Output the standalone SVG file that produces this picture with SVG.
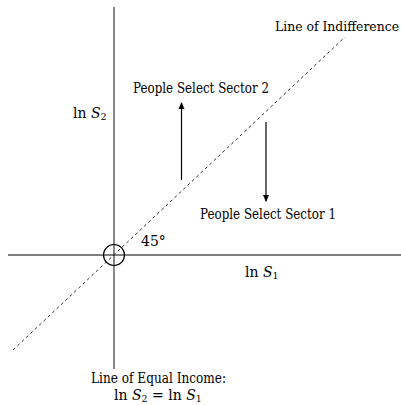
<svg xmlns="http://www.w3.org/2000/svg" width="401" height="405" viewBox="0 0 401 405">
<style>
text{font-family:"DejaVu Serif","Liberation Serif",serif;font-size:14px;fill:#000}
.c{font-family:"DejaVu Serif Condensed","DejaVu Serif",serif;font-stretch:condensed}
.it{font-style:italic}
.sub{font-size:9.5px}
.ax{stroke:#000;stroke-width:1.2;fill:none}
</style>
<defs>
<marker id="ah" markerWidth="8" markerHeight="8" refX="6" refY="4" orient="auto" markerUnits="userSpaceOnUse">
<path d="M0,1 L7,4 L0,7 Z" fill="#000"/>
</marker>
</defs>
<rect width="401" height="405" fill="#fff"/>
<g id="connectors">
<line x1="114" y1="7" x2="114" y2="369" stroke="#888" stroke-width="2"/>
<line x1="8" y1="255" x2="401" y2="255" class="ax"/>
<line x1="13" y1="350" x2="345" y2="37" stroke="#333" stroke-width="1" stroke-dasharray="3,3"/>
<line x1="181.5" y1="180" x2="181.5" y2="103" class="ax" marker-end="url(#ah)"/>
<line x1="266" y1="122" x2="266" y2="201" class="ax" marker-end="url(#ah)"/>
</g>
<g id="origin"><circle cx="114" cy="255" r="10.5" class="ax"/></g>
<g id="indifference"><text class="c" x="399" y="31" text-anchor="end" style="font-size:13.8px">Line of Indifference</text></g>
<g id="sector2"><text x="133" y="93" textLength="136" lengthAdjust="spacingAndGlyphs">People Select Sector 2</text></g>
<g id="sector1"><text x="200" y="219" textLength="136" lengthAdjust="spacingAndGlyphs">People Select Sector 1</text></g>
<g id="lnS2"><text x="73" y="118">ln <tspan class="it">S</tspan><tspan class="sub" dy="2">2</tspan></text></g>
<g id="lnS1"><text x="245" y="277">ln <tspan class="it">S</tspan><tspan class="sub" dy="2">1</tspan></text></g>
<g id="angle"><text x="141" y="246">45°</text></g>
<g id="equal">
<text x="91" y="383" textLength="135" lengthAdjust="spacingAndGlyphs">Line of Equal Income:</text>
<text x="114" y="400">ln <tspan class="it">S</tspan><tspan class="sub" dy="2">2</tspan><tspan dy="-2"> = ln </tspan><tspan class="it">S</tspan><tspan class="sub" dy="2">1</tspan></text>
</g>
</svg>
